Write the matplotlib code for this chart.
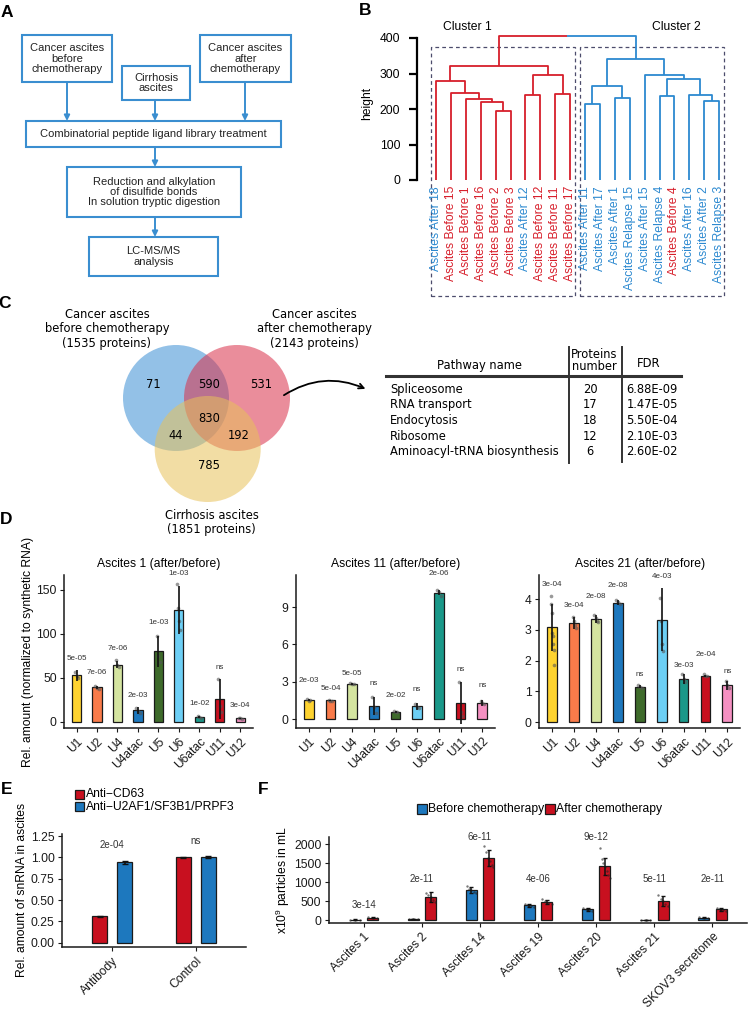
import numpy as np
import matplotlib.pyplot as plt
from matplotlib.patches import Rectangle, Circle, FancyArrowPatch

plt.rcParams['font.family'] = ['Liberation Sans', 'DejaVu Sans']

# ---------------- data ----------------
# A: workflow
flow_texts = ['Cancer ascites\nbefore\nchemotherapy', 'Cirrhosis\nascites',
              'Cancer ascites\nafter\nchemotherapy',
              'Combinatorial peptide ligand library treatment',
              'Reduction and alkylation\nof disulfide bonds\nIn solution tryptic digestion',
              'LC-MS/MS\nanalysis']

# B: dendrogram
leaf_names = ['Ascites After 18', 'Ascites Before 15', 'Ascites Before 1', 'Ascites Before 16',
              'Ascites Before 2', 'Ascites Before 3', 'Ascites After 12', 'Ascites Before 12',
              'Ascites Before 11', 'Ascites Before 17', 'Ascites After 11', 'Ascites After 17',
              'Ascites After 1', 'Ascites Relapse 15', 'Ascites After 15', 'Ascites Relapse 4',
              'Ascites Before 4', 'Ascites After 16', 'Ascites After 2', 'Ascites Relapse 3']
# merges: (child a, child b, height); ids >= 20 refer to earlier merges
merges = [(4, 5, 193), (3, 20, 221), (2, 21, 228), (1, 22, 245), (0, 23, 278),
          (6, 7, 240), (8, 9, 242), (25, 26, 296), (24, 27, 320),
          (10, 11, 214), (12, 13, 231), (29, 30, 265), (15, 16, 237), (18, 19, 223),
          (17, 33, 240), (32, 34, 284), (14, 35, 296), (31, 36, 342),
          (28, 37, 407)]
height_ticks = [0, 100, 200, 300, 400]

# C: venn + pathway table
venn_titles = ['Cancer ascites\nbefore chemotherapy\n(1535 proteins)',
               'Cancer ascites\nafter chemotherapy\n(2143 proteins)',
               'Cirrhosis ascites\n(1851 proteins)']
venn_counts = {'b': 71, 'a': 531, 'c': 785, 'ba': 590, 'bc': 44, 'ac': 192, 'bac': 830}
pathways = ['Spliceosome', 'RNA transport', 'Endocytosis', 'Ribosome', 'Aminoacyl-tRNA biosynthesis']
pathway_n = [20, 17, 18, 12, 6]
pathway_fdr = ['6.88E-09', '1.47E-05', '5.50E-04', '2.10E-03', '2.60E-02']

# D: snRNA ratios
snrna = ['U1', 'U2', 'U4', 'U4atac', 'U5', 'U6', 'U6atac', 'U11', 'U12']
snrna_colors = ['#fed330', '#f97b4a', '#d4e4a0', '#1d78be', '#3e6b2b', '#6dcff5', '#1a9889', '#c8101f', '#f590c2']
d_titles = ['Ascites 1 (after/before)', 'Ascites 11 (after/before)', 'Ascites 21 (after/before)']
d1_mean = [53, 39.4, 65, 13.3, 80.3, 127.3, 5.7, 26, 4.2]
d1_sd = [6.5, 1.5, 3.8, 3.8, 17.4, 27.5, 1.0, 22.5, 0.8]
d1_pts = [[57, 52, 50], [41, 39, 38], [70, 65, 62], [16, 13, 10], [98, 75, 68],
          [157, 130, 115, 105], [7, 5.5, 4.8], [49, 18, 11], [5, 4, 3.6]]
d1_p = ['5e-05', '7e-06', '7e-06', '2e-03', '1e-03', '1e-03', '1e-02', 'ns', '3e-04']
d1_py = [68.6, 52, 80, 26, 109, 165, 17.4, 58, 14.8]
d2_mean = [1.55, 1.52, 2.83, 1.1, 0.59, 1.04, 10.15, 1.31, 1.3]
d2_sd = [0.05, 0.04, 0.06, 0.72, 0.1, 0.27, 0.22, 1.7, 0.23]
d2_pts = [[1.6, 1.5, 1.55], [1.55, 1.5, 1.5], [2.9, 2.8, 2.8], [1.8, 1.0, 0.5], [0.65, 0.55, 0.58],
          [1.25, 1.0, 0.9], [10.4, 10.2, 9.9], [3.0, 0.6, 0.3], [1.45, 1.3, 1.2]]
d2_p = ['2e-03', '5e-04', '5e-05', 'ns', '2e-02', 'ns', '2e-06', 'ns', 'ns']
d2_py = [2.83, 2.2, 3.37, 2.62, 1.6, 2.14, 11.4, 3.74, 2.4]
d3_mean = [3.09, 3.22, 3.35, 3.89, 1.15, 3.33, 1.39, 1.5, 1.2]
d3_sd = [0.77, 0.2, 0.13, 0.08, 0.05, 1.03, 0.16, 0.03, 0.15]
d3_pts = [[4.1, 3.85, 3.55, 2.9, 2.8, 2.55, 2.35, 1.87], [3.42, 3.3, 3.15, 3.05], [3.48, 3.4, 3.3, 3.25],
          [3.98, 3.9, 3.85], [1.2, 1.15, 1.1], [4.05, 3.3, 2.55, 2.3], [1.55, 1.4, 1.3],
          [1.55, 1.5, 1.5], [1.32, 1.2, 1.12]]
d3_p = ['3e-04', '3e-04', '2e-08', '2e-08', 'ns', '4e-03', '3e-03', '2e-04', 'ns']
d3_py = [4.36, 3.68, 3.96, 4.33, 1.42, 4.63, 1.74, 2.09, 1.52]

# E: immunoprecipitation
e_groups = ['Antibody', 'Control']
e_series = ['Anti\u2212CD63', 'Anti\u2212U2AF1/SF3B1/PRPF3']
e_colors = ['#c8101f', '#1d78be']
e_cd63 = [0.31, 1.0]
e_cd63_sd = [0.004, 0.01]
e_u2 = [0.94, 1.0]
e_u2_sd = [0.015, 0.012]
e_p = ['2e-04', 'ns']
e_py = [1.087, 1.13]

# F: particles
f_samples = ['Ascites 1', 'Ascites 2', 'Ascites 14', 'Ascites 19', 'Ascites 20', 'Ascites 21', 'SKOV3 secretome']
f_series = ['Before chemotherapy', 'After chemotherapy']
f_before = [10, 25, 790, 386, 280, 5, 60]
f_before_sd = [8, 8, 70, 35, 45, 3, 12]
f_after = [55, 610, 1640, 473, 1420, 500, 280]
f_after_sd = [15, 130, 210, 60, 220, 140, 40]
f_before_pts = [[12, 8, 5], [30, 22, 20], [900, 820, 780, 750, 720], [420, 390, 370, 350],
                [330, 290, 260, 240], [6, 4, 3], [70, 60, 52]]
f_after_pts = [[70, 55, 45], [720, 650, 600, 520, 480], [1950, 1800, 1650, 1550, 1450, 1400],
               [560, 500, 460, 420], [1900, 1600, 1500, 1400, 1300, 1200, 1100],
               [650, 560, 500, 430, 380], [320, 290, 260, 240]]
f_p = ['3e-14', '2e-11', '6e-11', '4e-06', '9e-12', '5e-11', '2e-11']
f_py = [395, 1070, 2190, 1070, 2190, 1070, 1070]

# ---------------- figure ----------------
W, H = 748, 1019
fig = plt.figure(figsize=(W / 100, H / 100), dpi=100)


def px_axes(x0, y0, x1, y1):
    ax = fig.add_axes([x0 / W, 1 - y1 / H, (x1 - x0) / W, (y1 - y0) / H])
    ax.set_facecolor('none')
    return ax


ov = px_axes(0, 0, W, H)
ov.set_xlim(0, W)
ov.set_ylim(H, 0)
ov.axis('off')

for lab, x, y in [('A', 7, 12), ('B', 365, 10), ('C', 5, 303), ('D', 6, 520), ('E', 7, 790), ('F', 263, 790)]:
    ov.text(x, y, lab, fontsize=12.5, fontweight='bold', ha='center', va='center')

# ---- A ----
fc = '#3a8ed0'
boxes = [(22, 35, 112, 82), (122, 66, 190, 100), (200, 35, 291, 82),
         (26, 121, 281, 147), (67, 167, 241, 217), (89, 237, 218, 276)]
for (x0, y0, x1, y1), t in zip(boxes, flow_texts):
    ov.add_patch(Rectangle((x0, y0), x1 - x0, y1 - y0, fill=False, ec=fc, lw=1.5))
    ov.text((x0 + x1) / 2, (y0 + y1) / 2, t, ha='center', va='center', fontsize=8, color='#222',
            linespacing=1.05)
for x, y0, y1 in [(67, 82, 121), (155, 100, 121), (245, 82, 121), (155, 147, 167), (155, 217, 237)]:
    ov.annotate('', xy=(x, y1), xytext=(x, y0),
                arrowprops=dict(arrowstyle='-|>', color=fc, lw=1.4, mutation_scale=8, shrinkA=0, shrinkB=0))

# ---- B ----
red, blue = '#d71f2b', '#2c89d0'
axb = px_axes(417, 25, 730, 180)
step = 14.9
pxu = 142 / 400
axb.set_xlim((417 - 436) / step, (730 - 436) / step)
axb.set_ylim(0, 155 / pxu)
nl = len(leaf_names)
xpos = {i: float(i) for i in range(nl)}
hpos = {i: 0.0 for i in range(nl)}
for k, (a, b, h) in enumerate(merges):
    nid = nl + k
    if nid == nl + len(merges) - 1:
        ca, cb = red, blue
    else:
        ca = cb = red if nid <= nl + 8 else blue
    xa, xb = xpos[a], xpos[b]
    xm = (xa + xb) / 2
    axb.plot([xa, xa, xm], [hpos[a], h, h], color=ca, lw=1.3, solid_capstyle='butt', clip_on=False)
    axb.plot([xm, xb, xb], [h, h, hpos[b]], color=cb, lw=1.3, solid_capstyle='butt', clip_on=False)
    xpos[nid], hpos[nid] = xm, h
for i, name in enumerate(leaf_names):
    col = red if 'Before' in name else blue
    axb.text(i, -17, name, rotation=90, ha='center', va='top', color=col, fontsize=8.7, clip_on=False)
for x0, x1 in [(-0.34, 9.33), (9.66, 19.33)]:
    axb.add_patch(Rectangle((x0, -326.8), x1 - x0, 374.6 + 326.8, fill=False, ec='#4c4c6c',
                            lw=0.9, ls=(0, (3, 2.5)), clip_on=False))
for s in ['top', 'right', 'bottom']:
    axb.spines[s].set_visible(False)
axb.spines['left'].set_bounds(0, 400)
axb.spines['left'].set_linewidth(1.6)
axb.set_xticks([])
axb.set_yticks(height_ticks)
axb.tick_params(axis='y', length=6, width=1.6, labelsize=8.7, pad=6)
ov.text(367, 103, 'height', rotation=90, ha='center', va='center', fontsize=8.7)
ov.text(467, 27, 'Cluster 1', ha='center', va='center', fontsize=8.7)
ov.text(676, 27, 'Cluster 2', ha='center', va='center', fontsize=8.7)

# ---- C ----
vf = 'DejaVu Sans'
for (cx, cy), col in zip([(176, 398), (237, 398), (207.7, 449)], ['#3b8fd4', '#d9304a', '#e8c15a']):
    ov.add_patch(Circle((cx, cy), 53, fc=col, ec='none', alpha=0.55))
count_pos = {'b': (153.6, 384.3), 'ba': (208.7, 384.3), 'a': (261, 384.3), 'bac': (208.7, 418),
             'bc': (175.8, 435.3), 'ac': (238.6, 435.3), 'c': (208.7, 465.7)}
for key, (x, y) in count_pos.items():
    ov.text(x, y, str(venn_counts[key]), ha='center', va='center', fontsize=8.3, family=vf)
for t, (x, y) in zip(venn_titles, [(107, 328.5), (314, 328.5), (211.6, 522.5)]):
    ov.text(x, y, t, ha='center', va='center', fontsize=8.3, family=vf, linespacing=1.15)
ov.add_patch(FancyArrowPatch((281.6, 396.7), (368, 390), connectionstyle='arc3,rad=-0.28',
                             arrowstyle='->', mutation_scale=9, lw=1.3, color='black'))
ov.text(479.7, 366, 'Pathway name', ha='center', va='center', fontsize=8.3, family=vf)
ov.text(594, 361, 'Proteins\nnumber', ha='center', va='center', fontsize=8.3, family=vf, linespacing=0.9)
ov.text(648.3, 363.3, 'FDR', ha='center', va='center', fontsize=8.3, family=vf)
ov.plot([386.5, 681], [375.7, 375.7], color='#333', lw=2.2)
ov.plot([568.6, 568.6], [346.7, 462.7], color='#333', lw=1.4)
ov.plot([621.7, 621.7], [346.7, 461.7], color='#333', lw=1.4)
for i, (name, n, fdr) in enumerate(zip(pathways, pathway_n, pathway_fdr)):
    y = 389.3 + i * 15.6
    ov.text(390.3, y, name, ha='left', va='center', fontsize=8.3, family=vf)
    ov.text(590, y, str(n), ha='center', va='center', fontsize=8.3, family=vf)
    ov.text(626.6, y, fdr, ha='left', va='center', fontsize=8.3, family=vf)


# ---- ggplot-like bar panels ----
def gg_style(ax, xlabels, yticks, yticklabels=None):
    for s in ['top', 'right']:
        ax.spines[s].set_visible(False)
    for s in ['left', 'bottom']:
        ax.spines[s].set_linewidth(1.1)
        ax.spines[s].set_color('#1a1a1a')
    ax.set_xticks(range(len(xlabels)))
    ax.set_xticklabels(xlabels, rotation=45, ha='right', va='top', rotation_mode='anchor')
    ax.set_yticks(yticks)
    if yticklabels is not None:
        ax.set_yticklabels(yticklabels)
    ax.tick_params(length=3, width=0.8, labelsize=8.7, colors='#1a1a1a', pad=2.5)


def jitter_pts(ax, x, pts, color='#555555', size=7):
    offs = np.linspace(-0.08, 0.08, len(pts))
    ax.scatter(x + offs, pts, s=size, color=color, alpha=0.6, lw=0, zorder=4)


d_boxes = [(64.3, 575, 252.5, 728.3), (295.7, 575, 495.3, 727.7), (539.3, 575, 740.4, 728.3)]
d_ylims = [(-7.2, 167), (-0.67, 11.57), (-0.205, 4.79)]
d_yticks = [[0, 50, 100, 150], [0, 3, 6, 9], [0, 1, 2, 3, 4]]
d_sets = [(d1_mean, d1_sd, d1_pts, d1_p, d1_py), (d2_mean, d2_sd, d2_pts, d2_p, d2_py),
          (d3_mean, d3_sd, d3_pts, d3_p, d3_py)]
for box, yl, yt, (mean, sd, pts, pv, py), title in zip(d_boxes, d_ylims, d_yticks, d_sets, d_titles):
    ax = px_axes(*box)
    x = np.arange(len(snrna))
    ax.bar(x, mean, width=0.45, color=snrna_colors, edgecolor='#1a1a1a', lw=0.9, zorder=2)
    for i in range(len(snrna)):
        jitter_pts(ax, i, pts[i])
        ax.text(i, py[i], pv[i], ha='center', va='bottom', fontsize=5.8, color='#333')
    ax.errorbar(x, mean, yerr=sd, fmt='none', ecolor='#111', elinewidth=1.2, capsize=0, zorder=5)
    ax.set_xlim(-0.6, len(snrna) - 0.4)
    ax.set_ylim(*yl)
    gg_style(ax, snrna, yt)
    ax.set_title(title, fontsize=8.7, pad=6)
ov.text(28, 651.5, 'Rel. amount (normalized to synthetic RNA)', rotation=90, ha='center', va='center',
        fontsize=8.7)

# ---- E ----
axe = px_axes(62.3, 834, 246, 947.3)
xe = np.arange(len(e_groups))
axe.bar(xe - 0.15, e_cd63, width=0.18, color=e_colors[0], edgecolor='#1a1a1a', lw=0.9)
axe.bar(xe + 0.15, e_u2, width=0.18, color=e_colors[1], edgecolor='#1a1a1a', lw=0.9)
axe.errorbar(xe - 0.15, e_cd63, yerr=e_cd63_sd, fmt='none', ecolor='#111', elinewidth=1.2, capsize=2)
axe.errorbar(xe + 0.15, e_u2, yerr=e_u2_sd, fmt='none', ecolor='#111', elinewidth=1.2, capsize=2)
for i in range(len(e_groups)):
    axe.text(i, e_py[i], e_p[i], ha='center', va='bottom', fontsize=7, color='#333')
axe.set_xlim(-0.6, 1.6)
axe.set_ylim(-0.054, 1.274)
gg_style(axe, e_groups, [0, 0.25, 0.5, 0.75, 1.0, 1.25], ['0.00', '0.25', '0.50', '0.75', '1.00', '1.25'])
ov.text(21.7, 890, 'Rel. amount of snRNA in ascites', rotation=90, ha='center', va='center', fontsize=8.7)
for j, (name, col) in enumerate(zip(e_series, e_colors)):
    y = 794 + j * 12.7
    ov.add_patch(Rectangle((75, y - 4.5), 9, 9, fc=col, ec='#1a1a1a', lw=0.9))
    ov.text(85.5, y, name, ha='left', va='center', fontsize=8.7)

# ---- F ----
axf = px_axes(329, 836.7, 747.3, 923.3)
xf = np.arange(len(f_samples))
axf.bar(xf - 0.15, f_before, width=0.19, color=e_colors[1], edgecolor='#1a1a1a', lw=0.9, zorder=2)
axf.bar(xf + 0.15, f_after, width=0.19, color=e_colors[0], edgecolor='#1a1a1a', lw=0.9, zorder=2)
for i in range(len(f_samples)):
    jitter_pts(axf, i - 0.15, f_before_pts[i], color='#222', size=3)
    jitter_pts(axf, i + 0.15, f_after_pts[i], color='#222', size=3)
    axf.text(i, f_py[i], f_p[i], ha='center', va='center', fontsize=7, color='#333')
axf.errorbar(xf - 0.15, f_before, yerr=f_before_sd, fmt='none', ecolor='#111', elinewidth=1.1, capsize=1.5, zorder=5)
axf.errorbar(xf + 0.15, f_after, yerr=f_after_sd, fmt='none', ecolor='#111', elinewidth=1.1, capsize=1.5, zorder=5)
axf.set_xlim(-0.6, len(f_samples) - 0.4)
axf.set_ylim(-87, 2200)
gg_style(axf, f_samples, [0, 500, 1000, 1500, 2000])
ov.text(283.3, 880, r'x10$^{\mathregular{9}}$ particles in mL', rotation=90, ha='center', va='center',
        fontsize=8.7)
for (x0, xt), name, col in zip([(416.7, 427.7), (545, 556)], f_series, [e_colors[1], e_colors[0]]):
    ov.add_patch(Rectangle((x0, 804), 10, 10, fc=col, ec='#1a1a1a', lw=0.9))
    ov.text(xt, 809, name, ha='left', va='center', fontsize=8.7)

fig.savefig('out.png', dpi=100)
